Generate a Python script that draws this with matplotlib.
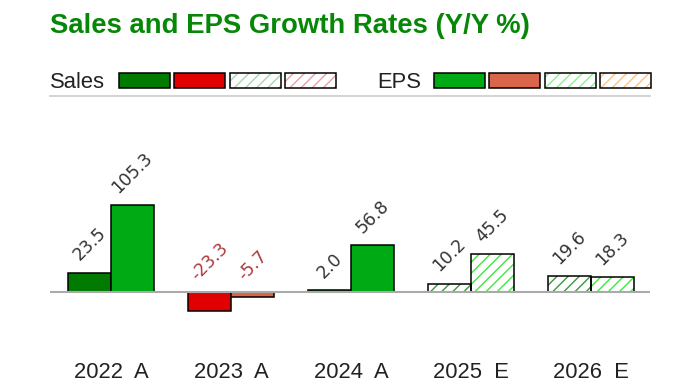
import matplotlib
matplotlib.use("Agg")
import matplotlib.pyplot as plt
import matplotlib.transforms as mtransforms
from matplotlib.patches import Rectangle
import numpy as np

# data
categories = ["2022  A", "2023  A", "2024  A", "2025  E", "2026  E"]
sales_growth = [23.5, -23.3, 2.0, 10.2, 19.6]
eps_growth = [105.3, -5.7, 56.8, 45.5, 18.3]
is_estimate = [False, False, False, True, True]

# colours
SALES_POS = "#007a00"
SALES_NEG = "#e00000"
SALES_EST = "#3c963c"
SALES_NEG_EST = "#e8a0a8"
EPS_POS = "#00aa14"
EPS_NEG = "#d9654a"
EPS_EST = "#3bea3b"
EPS_NEG_EST = "#ffc080"
TITLE_GREEN = "#078707"
LABEL_GRAY = "#333333"
LABEL_RED = "#b0393a"

W, H = 700, 387
plt.rcParams["hatch.linewidth"] = 1.0

fig = plt.figure(figsize=(W / 100, H / 100), dpi=100)
ax = fig.add_axes([50 / W, 1 - 330 / H, 600 / W, 220 / H])
ax.set_xlim(-0.508, 4.49)
ax.set_ylim(-46, 220.3)
ax.axis("off")


def bar_style(value, estimate, pos, neg, pos_est, neg_est):
    if estimate:
        return ("white", pos_est if value >= 0 else neg_est)
    return (pos if value >= 0 else neg, None)


def draw_bar(x, value, width, face, hatch_color):
    if hatch_color is None:
        ax.bar(x, value, width=width, align="edge", color=face,
               edgecolor="black", linewidth=1.1, zorder=2)
    else:
        ax.bar(x, value, width=width, align="edge", color="white",
               edgecolor=hatch_color, hatch="///", linewidth=0, zorder=2)
        ax.bar(x, value, width=width, align="edge", fill=False,
               edgecolor="black", linewidth=1.1, zorder=3)


def value_label(x, value):
    color = LABEL_GRAY if value >= 0 else LABEL_RED
    ax.annotate(f"{value:.1f}", xy=(x, max(value, 0)), xytext=(0, 6),
                textcoords="offset points", ha="center", va="bottom",
                rotation=45, fontsize=12.5, color=color,
                family="DejaVu Sans", zorder=4)


x = np.arange(len(categories))
w = 0.358
for i in range(len(categories)):
    face, hc = bar_style(sales_growth[i], is_estimate[i], SALES_POS, SALES_NEG, SALES_EST, SALES_NEG_EST)
    draw_bar(x[i] - w, sales_growth[i], w, face, hc)
    face, hc = bar_style(eps_growth[i], is_estimate[i], EPS_POS, EPS_NEG, EPS_EST, EPS_NEG_EST)
    draw_bar(x[i], eps_growth[i], w, face, hc)
    value_label(x[i] - w / 2, sales_growth[i])
    value_label(x[i] + w / 2, eps_growth[i])

ax.axhline(0, color="#aaaaaa", linewidth=1.5, zorder=5)

# category labels under each group
trans = mtransforms.blended_transform_factory(ax.transData, fig.transFigure)
for xi, cat in zip(x, categories):
    ax.text(xi, 1 - 372 / H, cat, transform=trans, ha="center", va="center",
            fontsize=15.8, family="Liberation Sans", color="#222222")

# title
fig.text(50 / W, 1 - 33 / H, "Sales and EPS Growth Rates (Y/Y %)",
         ha="left", va="baseline", fontsize=19.8, fontweight="bold",
         family="Liberation Sans", color=TITLE_GREEN)

# legend row
legend_font = dict(fontsize=15.8, family="Liberation Sans", color="#222222",
                   ha="left", va="baseline")
fig.text(50 / W, 1 - 88 / H, "Sales", **legend_font)
fig.text(377 / W, 1 - 88 / H, "EPS", **legend_font)


def legend_box(px, face, hatch_color=None):
    y0 = 1 - 88 / H
    bw, bh = 51 / W, 15 / H
    if hatch_color is not None:
        fig.add_artist(Rectangle((px / W, y0), bw, bh, transform=fig.transFigure,
                                 facecolor="white", edgecolor=hatch_color,
                                 hatch="///", linewidth=0))
        fig.add_artist(Rectangle((px / W, y0), bw, bh, transform=fig.transFigure,
                                 fill=False, edgecolor="black", linewidth=1.1))
    else:
        fig.add_artist(Rectangle((px / W, y0), bw, bh, transform=fig.transFigure,
                                 facecolor=face, edgecolor="black", linewidth=1.1))


legend_box(119, SALES_POS)
legend_box(174, SALES_NEG)
legend_box(230, None, "#a8d8a8")
legend_box(285, None, SALES_NEG_EST)
legend_box(434, EPS_POS)
legend_box(489, EPS_NEG)
legend_box(545, None, "#90f090")
legend_box(600, None, EPS_NEG_EST)

fig.add_artist(plt.Line2D([50 / W, 650 / W], [1 - 96 / H, 1 - 96 / H],
                          transform=fig.transFigure, color="#cccccc", linewidth=1.2))

fig.savefig("out.png", dpi=100)
